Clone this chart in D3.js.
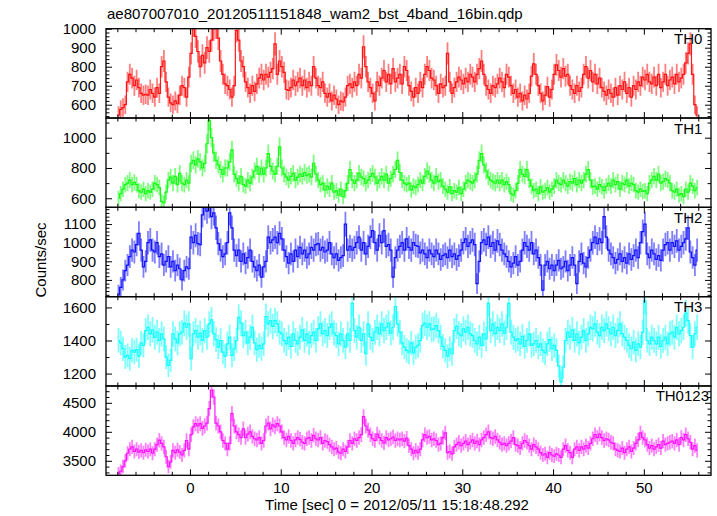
<!DOCTYPE html>
<html>
<head>
<meta charset="utf-8">
<script src="https://cdn.jsdelivr.net/npm/d3@7"></script>
<style>
  html, body { margin: 0; padding: 0; background: #fff; }
  svg { display: block; }
  text { font-family: "Liberation Sans", Arial, Helvetica, sans-serif; }
</style>
</head>
<body>
<svg id="chart" width="717" height="516"></svg>
<script>
// ---------------- data (counts/sec, 0.25 s bins starting at t = -8 s) ----------------
const titleText = "ae807007010_20120511151848_wam2_bst_4band_16bin.qdp";
const xLabelText = "Time [sec] 0 = 2012/05/11 15:18:48.292";
const yLabelText = "Counts/sec";
const timeStart = -8;
const binWidth = 0.25;

const th0 = [
  545, 575, 585, 600,  720, 760, 740, 700,  730, 690, 660, 650,  655, 650, 680, 660,
  640, 690, 660, 800,  830, 720, 640, 610,  600, 620, 605, 650,  700, 690, 640, 745,
  870, 1020, 960, 880, 800, 860, 820, 900,  880, 940, 1000, 1010, 950, 830, 760, 710,
  700, 680, 640, 700,  990, 940, 830, 800,  720, 690, 660, 700,  670, 710, 740, 760,
  730, 760, 745, 770,  790, 920, 760, 830,  800, 770, 680, 675,  690, 730, 700, 720,
  740, 700, 730, 690,  720, 700, 800, 740,  700, 690, 720, 660,  640, 660, 620, 650,
  630, 600, 620, 615,  640, 700, 710, 690,  720, 700, 760, 740,  905, 800, 720, 690,
  660, 620, 720, 700,  740, 780, 720, 760,  710, 790, 720, 740,  760, 710, 800, 780,
  700, 670, 640, 690,  660, 720, 690, 760,  800, 780, 740, 730,  700, 660, 710, 690,
  700, 870, 720, 660,  690, 720, 745, 730,  710, 740, 720, 760,  745, 720, 760, 790,
  830, 760, 700, 680,  660, 700, 690, 710,  740, 720, 690, 760,  745, 700, 660, 680,
  640, 660, 620, 650,  630, 660, 750, 815,  760, 700, 660, 620,  650, 695, 640, 680,
  760, 810, 780, 745,  790, 750, 760, 700,  680, 660, 700, 670,  690, 760, 800, 740,
  780, 720, 760, 710,  740, 690, 670, 650,  680, 660, 640, 690,  650, 700, 680, 720,
  660, 690, 640, 700,  680, 720, 700, 745,  730, 760, 720, 710,  745, 700, 760, 690,
  720, 760, 700, 730,  745, 710, 760, 720,  740, 760, 820, 870,  920, 760, 600, 545
];

const th1 = [
  600, 630, 660, 690,  700, 720, 690, 705,  690, 650, 640, 660,  630, 650, 640, 660,
  700, 690, 670, 580,  570, 640, 720, 740,  700, 745, 690, 765,  700, 690, 720, 700,
  830, 850, 820, 860,  840, 800, 830, 960,  1115, 1000, 900, 850, 820, 790, 760, 800,
  800, 840, 920, 760,  730, 700, 745, 690,  680, 720, 700, 740,  780, 810, 760, 800,
  760, 800, 895, 810,  780, 760, 810, 940,  800, 760, 740, 720,  745, 765, 720, 740,
  760, 745, 770, 750,  760, 740, 830, 760,  720, 690, 700, 655,  680, 660, 700, 640,
  650, 620, 660, 610,  650, 700, 790, 720,  700, 720, 765, 740,  730, 700, 720, 745,
  765, 740, 700, 720,  745, 720, 760, 700,  730, 760, 790, 850,  770, 720, 700, 690,
  700, 655, 680, 670,  690, 720, 700, 745,  780, 760, 720, 700,  745, 710, 720, 680,
  660, 640, 675, 630,  650, 640, 670, 630,  660, 700, 720, 710,  700, 720, 760, 850,
  895, 820, 780, 740,  720, 710, 700, 720,  700, 720, 690, 710,  690, 630, 620, 650,
  700, 790, 760, 745,  790, 720, 680, 650,  660, 630, 675, 640,  650, 670, 640, 660,
  680, 720, 700, 690,  720, 700, 680, 710,  700, 730, 690, 720,  700, 720, 760, 790,
  720, 675, 680, 660,  690, 675, 650, 680,  700, 680, 720, 690,  710, 660, 700, 690,
  720, 680, 700, 690,  650, 640, 660, 645,  650, 630, 700, 720,  745, 720, 760, 700,
  710, 730, 720, 700,  650, 640, 660, 620,  630, 610, 660, 640,  700, 680, 650, 670
];

const th2 = [
  720, 760, 800, 850,  880, 925, 960, 950,  990, 1050, 960, 870, 900, 1000, 1015, 960,
  950, 1000, 925, 940, 880, 900, 925, 870,  900, 850, 880, 860,  800, 850, 870, 860,
  1030, 1000, 1040, 995, 990, 1150, 1190, 1170, 1200, 1140, 1160, 1080, 995, 960, 925, 940,
  1000, 1160, 1080, 960, 930, 960, 900, 940, 890, 920, 960, 900,  870, 850, 880, 815,
  870, 900, 1030, 1000, 1015, 1030, 1000, 1050, 1020, 960, 925, 890, 940, 900, 960, 925,
  975, 940, 960, 920,  940, 975, 960, 990,  995, 960, 975, 950,  960, 1000, 940, 920,
  940, 905, 920, 930,  1100, 960, 980, 960, 975, 1000, 1030, 960, 1000, 940, 980, 1030,
  1065, 1000, 960, 1040, 1000, 1065, 980, 990, 960, 815, 920, 960, 980, 1000, 960, 1020,
  975, 960, 1000, 985, 980, 945, 960, 940,  920, 960, 940, 925,  960, 940, 910, 930,
  940, 920, 960, 925,  940, 910, 930, 960,  1000, 1020, 980, 1000, 1015, 990, 780, 900,
  1000, 1015, 990, 1030, 980, 1000, 960, 1010, 990, 960, 940, 925, 900, 870, 890, 925,
  880, 900, 960, 1000, 980, 960, 1000, 940, 960, 920, 880, 745,  880, 900, 860, 880,
  850, 880, 905, 860,  870, 900, 850, 880,  920, 880, 780, 900,  940, 890, 870, 920,
  960, 1000, 1030, 995, 1020, 1000, 1140, 1030, 960, 940, 920, 890, 910, 940, 900, 920,
  890, 940, 910, 930,  960, 920, 1000, 1060, 1100, 940, 920, 960, 940, 910, 930, 905,
  960, 990, 1000, 960, 1000, 980, 1010, 960, 980, 1000, 1020, 1080, 950, 920, 880, 960
];

const th3 = [
  1400, 1385, 1350, 1300, 1310, 1290, 1340, 1330, 1345, 1305, 1385, 1370, 1460, 1480, 1440, 1465,
  1420, 1450, 1400, 1440, 1410, 1300, 1250, 1280, 1440, 1410, 1385, 1440, 1450, 1505, 1480, 1500,
  1290, 1440, 1460, 1420, 1445, 1400, 1460, 1420, 1500, 1525, 1440, 1405, 1360, 1400, 1330, 1305,
  1380, 1420, 1310, 1350, 1400, 1540, 1505, 1430, 1450, 1385, 1420, 1480, 1385, 1345, 1370, 1350,
  1380, 1545, 1500, 1520, 1485, 1520, 1500, 1450, 1440, 1400, 1380, 1420, 1365, 1440, 1400, 1380,
  1420, 1465, 1400, 1440, 1385, 1430, 1450, 1400, 1470, 1500, 1440, 1460, 1430, 1480, 1500, 1445,
  1430, 1380, 1440, 1400, 1360, 1440, 1400, 1625, 1460, 1420, 1480, 1400, 1440, 1320, 1500, 1420,
  1400, 1450, 1480, 1440, 1500, 1460, 1480, 1505, 1445, 1480, 1605, 1500, 1450, 1385, 1360, 1340,
  1330, 1385, 1325, 1360, 1370, 1400, 1490, 1505, 1480, 1500, 1465, 1470, 1490, 1460, 1420, 1365,
  1340, 1305, 1350, 1320, 1460, 1485, 1440, 1430, 1470, 1450, 1480, 1440, 1430, 1400, 1380, 1420,
  1370, 1440, 1410, 1625, 1460, 1500, 1440, 1480, 1460, 1500, 1445, 1480, 1625, 1450, 1420, 1400,
  1410, 1380, 1425, 1365, 1400, 1440, 1370, 1380, 1400, 1360, 1380, 1340, 1325, 1380, 1405, 1350,
  1370, 1340, 1245, 1150, 1240, 1400, 1450, 1420, 1465, 1400, 1440, 1385, 1420, 1460, 1400, 1440,
  1480, 1470, 1500, 1450, 1430, 1480, 1460, 1500, 1470, 1440, 1480, 1430, 1460, 1500, 1440, 1420,
  1400, 1370, 1350, 1390, 1340, 1380, 1360, 1450, 1640, 1400, 1380, 1420, 1400, 1380, 1420, 1365,
  1400, 1420, 1380, 1440, 1450, 1420, 1480, 1440, 1460, 1480, 1565, 1520, 1430, 1360, 1440, 1480
];

const th0123 = [
  3280, 3320, 3400, 3500, 3630, 3700, 3740, 3660, 3700, 3650, 3680, 3640, 3690, 3660, 3700, 3630,
  3700, 3780, 3855, 3800, 3740, 3570, 3400, 3480, 3680, 3640, 3690, 3650, 3600, 3680, 3850, 3700,
  3950, 4085, 4140, 4100, 4140, 4060, 4100, 4150, 4400, 4720, 4600, 4150, 4100, 4000, 3850, 3800,
  3700, 3800, 4315, 4100, 4000, 3950, 3900, 4050, 3900, 3960, 4000, 3920, 3880, 3860, 3900, 3800,
  3850, 4100, 4150, 4050, 4120, 4085, 4140, 4100, 4000, 3900, 3860, 3920, 3850, 3800, 3860, 3900,
  3870, 3820, 3800, 3880, 3900, 3850, 3940, 3880, 3860, 3900, 3800, 3850, 3830, 3780, 3740, 3700,
  3720, 3650, 3630, 3700, 3660, 3740, 3850, 3800, 3880, 3850, 3900, 3950, 4260, 4100, 4030, 3950,
  3880, 3850, 3960, 3900, 3850, 3810, 3900, 3860, 3880, 3910, 3850, 3880, 3860, 3880, 3840, 3890,
  3760, 3700, 3630, 3680, 3640, 3700, 3860, 3950, 3900, 3920, 3860, 3880, 3850, 3780, 3800, 3900,
  3980, 3640, 3660, 3620, 3740, 3780, 3820, 3760, 3800, 3840, 3780, 3820, 3860, 3800, 3840, 3780,
  3860, 3900, 3950, 4000, 3900, 3880, 3920, 3860, 3820, 3780, 3800, 3760, 3800, 3840, 3900, 3780,
  3760, 3720, 3800, 3850, 3820, 3760, 3700, 3780, 3740, 3700, 3640, 3600, 3620, 3560, 3640, 3600,
  3580, 3620, 3600, 3560, 3700, 3760, 3680, 3640, 3560, 3700, 3740, 3680, 3740, 3700, 3760, 3720,
  3800, 3880, 3950, 3900, 3960, 3900, 3850, 3880, 3860, 3820, 3800, 3700, 3680, 3660, 3720, 3640,
  3700, 3740, 3660, 3720, 3800, 3860, 3980, 3900, 3860, 3780, 3720, 3760, 3700, 3740, 3780, 3720,
  3840, 3780, 3800, 3820, 3840, 3800, 3860, 3780, 3900, 3860, 3950, 3880, 3820, 3700, 3760, 3680
];

const panelNames = ["TH0", "TH1", "TH2", "TH3", "TH0123"];
const panelSeries = [th0, th1, th2, th3, th0123];
const panelColors = ["#ff0000", "#00ff00", "#0000ff", "#00ffff", "#ff00ff"];
const yDomains = [[530, 1000], [540, 1130], [710, 1190], [1125, 1665], [3250, 4790]];
const yMajorStep = [100, 200, 100, 200, 500];
const yMinorStep = [20, 100, 20, 100, 100];
const xDomain = [-9.25, 57.4];
const xMajorTicks = [0, 10, 20, 30, 40, 50];
const xMinorStep = 2;

// ---------------- layout ----------------
const svg = d3.select("#chart");
const L = 106, R = 711, T = 28.7, B = 475.3;
const nP = panelNames.length;
const pH = (B - T) / nP;
const FS = 15;
const majorLen = 6, minorLen = 3.5;

const x = d3.scaleLinear().domain(xDomain).range([L, R]);
const xMinorTicks = d3.range(-8, 58, xMinorStep).filter(v => v >= xDomain[0] && v <= xDomain[1] && !xMajorTicks.includes(v));

function stepTicks(dom, step) {
  const out = [];
  const eps = step * 1e-6;
  for (let v = Math.ceil((dom[0] - eps) / step) * step; v <= dom[1] + eps; v += step) out.push(Math.round(v));
  return out;
}

function styleAxis(g) {
  g.select(".domain").remove();
  g.selectAll(".tick line").attr("stroke", "#000").attr("stroke-width", 1);
  g.selectAll("text").attr("font-size", FS).attr("font-family", "Liberation Sans, Arial, sans-serif").attr("fill", "#000");
  g.attr("font-size", null).attr("font-family", null);
}

const defs = svg.append("defs");

panelNames.forEach((name, p) => {
  const top = T + p * pH, bot = top + pH;
  const y = d3.scaleLinear().domain(yDomains[p]).range([bot, top]);
  const data = panelSeries[p];
  const color = panelColors[p];

  defs.append("clipPath").attr("id", "clip" + p)
    .append("rect").attr("x", L).attr("y", top).attr("width", R - L).attr("height", pH);

  const g = svg.append("g").attr("clip-path", "url(#clip" + p + ")");
  const bins = data.map((v, i) => {
    const t = timeStart + binWidth * (i + 0.5);
    const err = Math.sqrt(v * binWidth) / binWidth; // Poisson error of the rate
    return { t, v, err };
  });
  // vertical error bars (lighter)
  g.selectAll("line.err").data(bins).join("line").attr("class", "err")
    .attr("x1", d => x(d.t)).attr("x2", d => x(d.t))
    .attr("y1", d => y(d.v - d.err)).attr("y2", d => y(d.v + d.err))
    .attr("stroke", color).attr("stroke-opacity", 0.5).attr("stroke-width", 1.8);
  // step line through the bins
  const stepLine = d3.line().x(d => x(d.t)).y(d => y(d.v)).curve(d3.curveStep);
  g.append("path").datum(bins).attr("d", stepLine)
    .attr("fill", "none").attr("stroke", color).attr("stroke-width", 1.2).attr("stroke-opacity", 0.9);

  const majors = stepTicks(yDomains[p], yMajorStep[p]);
  const minors = stepTicks(yDomains[p], yMinorStep[p]).filter(v => !majors.includes(v));

  // left axis
  svg.append("g").attr("transform", `translate(${L},0)`)
    .call(d3.axisLeft(y).tickValues(majors).tickSize(-majorLen).tickPadding(10).tickFormat(d3.format("d")))
    .call(styleAxis);
  svg.append("g").attr("transform", `translate(${L},0)`)
    .call(d3.axisLeft(y).tickValues(minors).tickSize(-minorLen).tickFormat(""))
    .call(styleAxis);
  // right axis
  svg.append("g").attr("transform", `translate(${R},0)`)
    .call(d3.axisRight(y).tickValues(majors).tickSize(-majorLen).tickFormat(""))
    .call(styleAxis);
  svg.append("g").attr("transform", `translate(${R},0)`)
    .call(d3.axisRight(y).tickValues(minors).tickSize(-minorLen).tickFormat(""))
    .call(styleAxis);
  // top axis
  svg.append("g").attr("transform", `translate(0,${top})`)
    .call(d3.axisTop(x).tickValues(xMajorTicks).tickSize(-majorLen).tickFormat(""))
    .call(styleAxis);
  svg.append("g").attr("transform", `translate(0,${top})`)
    .call(d3.axisTop(x).tickValues(xMinorTicks).tickSize(-minorLen).tickFormat(""))
    .call(styleAxis);
  // bottom axis
  const isLast = p === nP - 1;
  svg.append("g").attr("transform", `translate(0,${bot})`)
    .call(d3.axisBottom(x).tickValues(xMajorTicks).tickSize(-majorLen).tickPadding(7)
      .tickFormat(isLast ? d3.format("d") : ""))
    .call(styleAxis);
  svg.append("g").attr("transform", `translate(0,${bot})`)
    .call(d3.axisBottom(x).tickValues(xMinorTicks).tickSize(-minorLen).tickFormat(""))
    .call(styleAxis);

  // frame
  svg.append("rect").attr("x", L).attr("y", top).attr("width", R - L).attr("height", pH)
    .attr("fill", "none").attr("stroke", "#000").attr("stroke-width", 1.3);

  // panel label
  const lab = svg.append("text").attr("y", top + 15.5).attr("font-size", FS).attr("fill", "#000").text(name);
  const w = lab.node().getComputedTextLength();
  lab.attr("x", Math.min(674, 709 - w));
});

// title and axis labels
svg.append("text").attr("x", 107).attr("y", 18.5).attr("font-size", FS).attr("fill", "#000").text(titleText);
svg.append("text").attr("x", 397).attr("y", 509.5).attr("text-anchor", "middle")
  .attr("font-size", FS).attr("fill", "#000").text(xLabelText);
svg.append("text").attr("transform", "translate(46,260) rotate(-90)").attr("text-anchor", "middle")
  .attr("font-size", FS).attr("fill", "#000").text(yLabelText);
</script>
</body>
</html>
